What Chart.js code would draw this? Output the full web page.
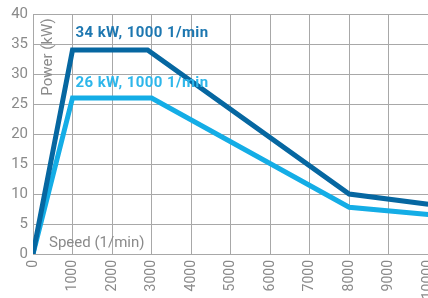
<!DOCTYPE html>
<html><head><meta charset="utf-8">
<script src="https://cdn.jsdelivr.net/npm/chart.js@4/dist/chart.umd.min.js"></script>
<style>
html,body{margin:0;padding:0;background:#fff;overflow:hidden;width:428px;height:298px;}
#wrap{position:absolute;left:0;top:0;width:451px;height:298px;}
</style></head><body>
<div id="wrap"><canvas id="c"></canvas></div>
<script>
const xTicks = [0,1000,2000,3000,4000,5000,6000,7000,8000,9000,10000];
const yTicks = [0,5,10,15,20,25,30,35,40];
const speedDark = [0,1000,2900,8000,10000];
const powerDark = [0,34,34,10,8.3];
const speedLight = [0,1000,3000,8000,10000];
const powerLight = [0,26,26,7.8,6.6];
const labelDark = "34 kW, 1000 1/min";
const labelLight = "26 kW, 1000 1/min";
const yTitle = "Power (kW)";
const xTitle = "Speed (1/min)";

const DARK = '#0667a1', LIGHT = '#14ade6', GREY = '#8a8a8a', GRID = '#a8a8a8';

const textPlugin = {
  id: 'texts',
  afterDatasetsDraw(chart) {
    const ctx = chart.ctx, a = chart.chartArea;
    const xs = chart.scales.x, ys = chart.scales.y;
    ctx.save();
    ctx.font = 'bold 15px Roboto';
    try { ctx.letterSpacing = '0.4px'; } catch(e) {}
    ctx.textBaseline = 'alphabetic';
    ctx.textAlign = 'left';
    ctx.fillStyle = '#1d77b0';
    ctx.fillText(labelDark, xs.getPixelForValue(1000) + 3, ys.getPixelForValue(36.1));
    ctx.fillStyle = '#2db6ea';
    ctx.fillText(labelLight, xs.getPixelForValue(1000) + 3, ys.getPixelForValue(27.9));
    try { ctx.letterSpacing = '0px'; } catch(e) {}
    ctx.font = '15px Roboto';
    ctx.fillStyle = GREY;
    ctx.fillText(xTitle, a.left + 16, a.bottom - 7);
    ctx.translate(a.left + 19, a.top + 43);
    ctx.rotate(-Math.PI/2);
    ctx.textAlign = 'center';
    ctx.fillText(yTitle, 0, 0);
    ctx.restore();
  }
};

new Chart(document.getElementById('c'), {
  type: 'line',
  data: {
    datasets: [
      { data: speedDark.map((s,i)=>({x:s,y:powerDark[i]})), borderColor: DARK, borderWidth: 5, pointRadius: 0, tension: 0, borderJoinStyle: 'miter', fill: false },
      { data: speedLight.map((s,i)=>({x:s,y:powerLight[i]})), borderColor: LIGHT, borderWidth: 5, pointRadius: 0, tension: 0, borderJoinStyle: 'miter', fill: false }
    ]
  },
  options: {
    responsive: true, maintainAspectRatio: false, animation: false,
    layout: { padding: { top: 8, left: 0, right: 0, bottom: 0 } },
    plugins: { legend: { display: false }, tooltip: { enabled: false } },
    scales: {
      x: {
        type: 'linear', min: 0, max: 10000,
        afterBuildTicks: s => { s.ticks = xTicks.map(v=>({value:v})); },
        afterFit: s => { s.height = 44; },
        ticks: { minRotation: 90, maxRotation: 90, color: GREY, font: { family: 'Roboto', size: 14 }, padding: 6, callback: v => String(v) },
        grid: { color: GRID, lineWidth: 1, drawTicks: false },
        border: { display: true, color: GRID }
      },
      y: {
        min: 0, max: 40,
        afterBuildTicks: s => { s.ticks = yTicks.map(v=>({value:v})); },
        afterFit: s => { s.width = 33; },
        ticks: { color: GREY, font: { family: 'Roboto', size: 15 }, padding: 5, callback: v => String(v) },
        grid: { color: GRID, lineWidth: 1, drawTicks: false },
        border: { display: true, color: GRID }
      }
    }
  },
  plugins: [textPlugin]
});
</script>
</body></html>
